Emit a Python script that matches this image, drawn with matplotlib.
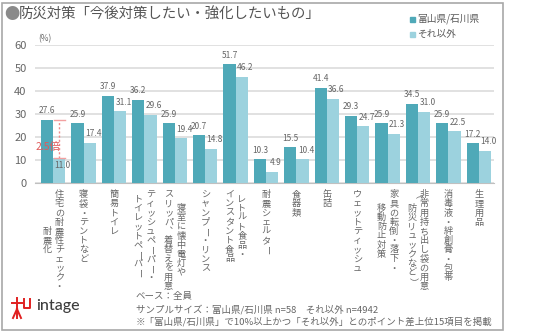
import matplotlib
matplotlib.use("Agg")
import matplotlib.pyplot as plt
import matplotlib.transforms as mtransforms
from matplotlib.patches import Rectangle
import numpy as np

plt.rcParams['font.family'] = ['Noto Sans CJK JP', 'DejaVu Sans']

# データ
categories = [
    ["住宅の耐震性チェック・", "耐震化"],
    ["寝袋・テントなど"],
    ["簡易トイレ"],
    ["ティッシュペーパー・", "トイレットペーパー"],
    ["寝室に懐中電灯や", "スリッパ、着替えを用意"],
    ["シャンプー・リンス"],
    ["レトルト食品・", "インスタント食品"],
    ["耐震シェルター"],
    ["食器類"],
    ["缶詰"],
    ["ウェットティッシュ"],
    ["家具の転倒・落下・", "移動防止対策"],
    ["非常用持ち出し袋の用意", "（防災リュックなど）"],
    ["消毒液・絆創膏・包帯"],
    ["生理用品"],
]
toyama = [27.6, 25.9, 37.9, 36.2, 25.9, 20.7, 51.7, 10.3, 15.5, 41.4, 29.3, 25.9, 34.5, 25.9, 17.2]
others = [11.0, 17.4, 31.1, 29.6, 19.4, 14.8, 46.2, 4.9, 10.4, 36.6, 24.7, 21.3, 31.0, 22.5, 14.0]
series_names = ["富山県/石川県", "それ以外"]
yticks = [0, 10, 20, 30, 40, 50, 60]

dark = "#4fa9b8"
light = "#9cd2de"
gray = "#666666"

W, H = 536, 332
fig = plt.figure(figsize=(W / 100, H / 100), dpi=100)

# 枠
fig.patches.append(Rectangle((2 / W, 2 / H), 501 / W, 327 / H, transform=fig.transFigure,
                             fill=False, edgecolor="#a8a8a8", linewidth=1.2))

ax = fig.add_axes([35 / W, 1 - 183 / H, 459 / W, 138 / H])
x = np.arange(len(toyama))
bw = 0.4
ax.bar(x - bw / 2, toyama, bw, color=dark, zorder=3)
ax.bar(x + bw / 2, others, bw, color=light, zorder=3)

ax.set_xlim(-0.6, 14.5)
ax.set_ylim(0, 60)
ax.set_yticks(yticks)
ax.set_xticks([])
ax.tick_params(axis='y', length=0, pad=6, labelsize=8, labelcolor=gray)
for s in ['top', 'right', 'left']:
    ax.spines[s].set_visible(False)
ax.spines['bottom'].set_color("#c0c0c0")
ax.grid(axis='y', color="#dcdcdc", linewidth=1.2, zorder=0)
ax.set_facecolor("none")

for i, v in enumerate(toyama):
    ax.annotate(f"{v:.1f}", (x[i] - bw / 2, v), xytext=(0, 6.5), textcoords='offset points',
                ha='center', va='center', fontsize=6, color=gray, zorder=5)
for i, v in enumerate(others):
    dy = -5.8 if i == 0 else 6.5
    ax.annotate(f"{v:.1f}", (x[i] + bw / 2, v), xytext=(2.5, dy), textcoords='offset points',
                ha='center', va='center', fontsize=6, color=gray, zorder=5)

# 2.5倍
ax.plot([x[0] + bw / 2] * 2, [others[0], toyama[0]], color="#ee8a8a", linestyle=(0, (1.5, 1.5)),
        linewidth=1, zorder=4)
ax.plot([x[0] + 0.02, x[0] + bw], [toyama[0]] * 2, color="#f2a0a0", linewidth=1, zorder=4)
ax.plot([x[0] + 0.02, x[0] + bw], [others[0]] * 2, color="#f2a0a0", linewidth=1, zorder=4)
ax.text(x[0] + 0.22, 15.6, "2.5倍", ha='right', va='center', fontsize=7.5, color="#e05a5a", zorder=6)

# 縦書きラベル
trans = mtransforms.blended_transform_factory(ax.transData, fig.transFigure)
pitch = 9.2
top = 190
colgap = 12.5 / 30.4
for i, cols in enumerate(categories):
    n = len(cols)
    maxlen = max(len(c) for c in cols)
    for j, col in enumerate(cols):
        cx = x[i] + ((n - 1) / 2 - j) * colgap
        start = (maxlen - len(col)) / 2
        for k, ch in enumerate(col):
            py = top + (start + k + 0.5) * pitch
            rot = 0
            if ch in "ー（）":
                rot = -90
            if ch == "、":
                ch = "︑"
            ax.text(cx, 1 - py / H, ch, transform=trans, ha='center', va='center',
                    fontsize=6.6, color=gray, rotation=rot, clip_on=False)

# タイトル
fig.text(4 / W, 1 - 15 / H, "●", fontsize=11, color="#8a8a8a", ha='left', va='center')
fig.text(19 / W, 1 - 15 / H, "防災対策「今後対策したい・強化したいもの」", fontsize=10.4,
         color="#555555", ha='left', va='center')
fig.text(38 / W, 1 - 39 / H, "(%)", fontsize=6, color=gray, ha='left', va='center')

# 凡例
for r, (name, c) in enumerate(zip(series_names, [dark, light])):
    yy = 1 - (19 + 15 * r) / H
    fig.patches.append(Rectangle((410 / W, yy - 2.5 / H), 5 / W, 5 / H, transform=fig.transFigure,
                                 color=c))
    fig.text(417 / W, yy, name, fontsize=7, color="#595959", ha='left', va='center')

# 注記
notes = ["ベース：全員",
         "サンプルサイズ：富山県/石川県 n=58　それ以外 n=4942",
         "※「富山県/石川県」で10%以上かつ「それ以外」とのポイント差上位15項目を掲載"]
for r, t in enumerate(notes):
    fig.text(136 / W, 1 - (297 + 12.3 * r) / H, t, fontsize=6.8, color="#666666",
             ha='left', va='center')

# ロゴ
red = "#e02020"
lw = 1.4
def px(xp, yp):
    return xp / W, 1 - yp / H
segs = [
    [(12, 303), (22, 303)],
    [(17, 298), (17, 318)],
    [(17, 309), (13, 318)],
    [(17, 309), (21, 318)],
    [(24, 299), (24, 308), (30, 308), (30, 299)],
]
for seg in segs:
    xs, ys = zip(*[px(a, b) for a, b in seg])
    fig.lines.append(plt.Line2D(xs, ys, transform=fig.transFigure, color=red, linewidth=lw))
fig.text(36 / W, 1 - 306 / H, "intage", fontsize=11.5, color="#3c3c3c", ha='left', va='center',
         family=['Lato', 'DejaVu Sans'], weight='medium')

fig.savefig("out.png", dpi=100)
